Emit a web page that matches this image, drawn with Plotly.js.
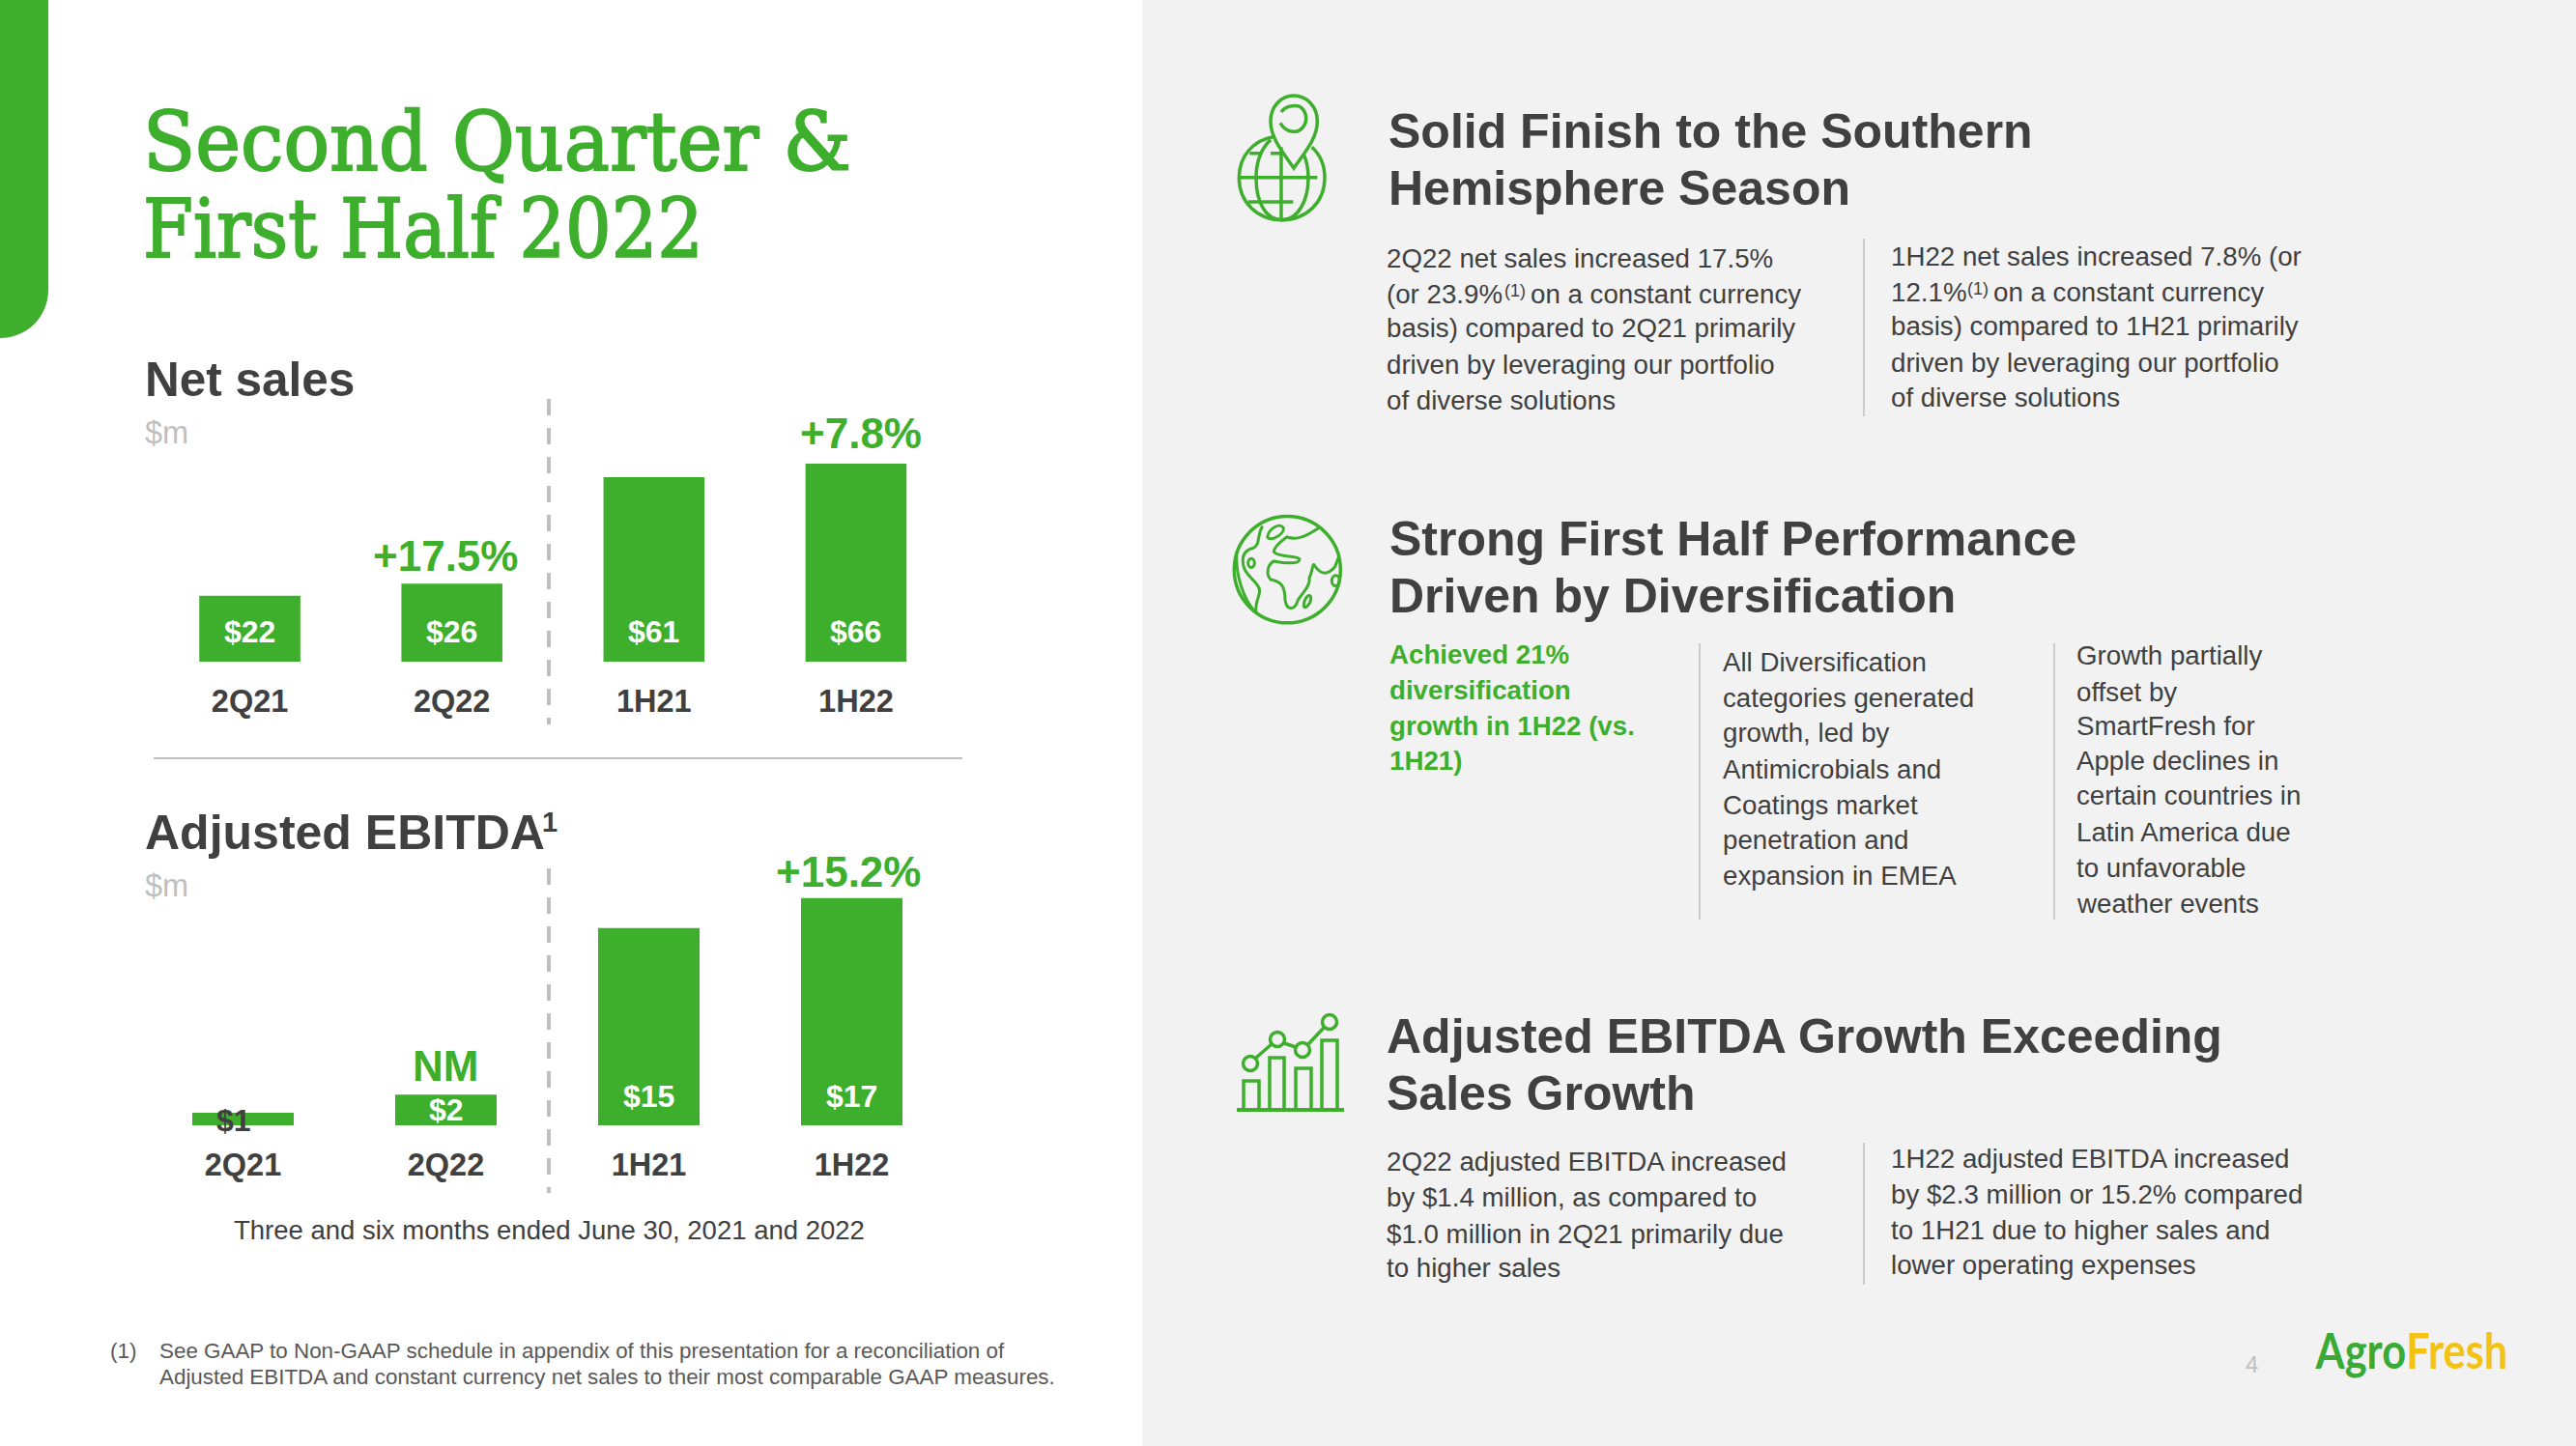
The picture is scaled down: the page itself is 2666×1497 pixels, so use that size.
<!DOCTYPE html>
<html><head><meta charset="utf-8">
<script src="https://cdn.plot.ly/plotly-3.0.1.min.js"></script>
<style>html,body{margin:0;padding:0;background:#fff;overflow:hidden}#c{width:2666px;height:1497px}</style>
</head><body><div id="c"></div>
<script>
const netCats=['2Q21','2Q22','1H21','1H22'];
const netVals=[22,26,61.5,66];
const netLabels=['$22','$26','$61','$66'];
const ebitdaCats=['2Q21','2Q22','1H21','1H22'];
const ebitdaVals=[0.95,2.3,14.8,17.05];
const ebitdaLabels=['$1','$2','$15','$17'];

const W=2666,H=1497;
const GREEN='#3eaf2d',DARK='#404040',GREY='#bfbfbf',FONT='Liberation Sans';
const px=x=>x/W, py=y=>1-y/H;
const ann=[],shapes=[];
function T(x,y,s,size,color,opt={}){
  ann.push({xref:'paper',yref:'paper',x:px(x),y:py(y),text:opt.bold?'<b>'+s+'</b>':s,showarrow:false,
    xanchor:opt.anchor||'left',yanchor:'middle',borderpad:0,borderwidth:0,
    font:{family:opt.family||FONT,size:size,color:color}});
}
function rect(x0,y0,x1,y1,c){shapes.push({type:'rect',xref:'paper',yref:'paper',x0:px(x0),x1:px(x1),y0:py(y0),y1:py(y1),fillcolor:c,line:{width:0},layer:'below'});}
function ln(x0,y0,x1,y1,c,w,dash){shapes.push({type:'line',xref:'paper',yref:'paper',x0:px(x0),x1:px(x1),y0:py(y0),y1:py(y1),line:{color:c,width:w,dash:dash||'solid'},layer:'above'});}
function conv(p,f){return p.replace(/(-?[\d.]+)[ ,](-?[\d.]+)/g,(m,a,b)=>{const q=f(+a,+b);return px(q[0]).toFixed(5)+','+py(q[1]).toFixed(5);});}
function icon(p,f,w){shapes.push({type:'path',xref:'paper',yref:'paper',path:conv(p,f),line:{color:GREEN,width:w||3.5},fillcolor:'rgba(0,0,0,0)',layer:'above'});}
function ell(cx,cy,rx,ry){const k=0.5523;return `M${cx-rx},${cy} C${cx-rx},${cy-k*ry} ${cx-k*rx},${cy-ry} ${cx},${cy-ry} C${cx+k*rx},${cy-ry} ${cx+rx},${cy-k*ry} ${cx+rx},${cy} C${cx+rx},${cy+k*ry} ${cx+k*rx},${cy+ry} ${cx},${cy+ry} C${cx-k*rx},${cy+ry} ${cx-rx},${cy+k*ry} ${cx-rx},${cy} Z`;}
const id=(x,y)=>[x,y];
const zm=(x,y)=>[1250+x/3,70+y/2.613];

// panels
rect(1182,0,W,H,'#f2f2f2');
shapes.push({type:'path',xref:'paper',yref:'paper',path:conv('M0,0 L50,0 L50,300 C50,328 28,350 0,350 Z',id),fillcolor:GREEN,line:{width:0},layer:'below'});

// left text
T(148,147,'Second Quarter &amp;',84,GREEN,{family:'DejaVu Serif'});
T(148,237,'First Half 2022',84,GREEN,{family:'DejaVu Serif'});
T(150,392,'Net sales',49.5,DARK,{bold:true});
T(150,447.5,'$m',32.5,'#bfbfbf');
T(150,862,'Adjusted EBITDA',50,DARK,{bold:true});
T(561,851,'1',29,DARK,{bold:true});
T(150,917,'$m',32.5,'#bfbfbf');
T(461,576,'+17.5%',44,GREEN,{bold:true,anchor:'center'});
T(891,448.5,'+7.8%',44,GREEN,{bold:true,anchor:'center'});
T(461.5,1103,'NM',44,GREEN,{bold:true,anchor:'center'});
T(878,902.5,'+15.2%',44,GREEN,{bold:true,anchor:'center'});
ln(568,413,568,750,GREY,4,'17px,13px');
ln(568,899,568,1235,GREY,4,'17px,13px');
ln(159,785,996,785,GREY,2);
T(568,1273,'Three and six months ended June 30, 2021 and 2022',27.5,DARK,{anchor:'center'});
T(114,1398,'(1)',22.4,'#595959');
T(165,1398,'See GAAP to Non-GAAP schedule in appendix of this presentation for a reconciliation of',22.4,'#595959');
T(165,1425,'Adjusted EBITDA and constant currency net sales to their most comparable GAAP measures.',22.4,'#595959');

// right text
const HS=50,BS=27.7,SUP=18;
T(1437,136,'Solid Finish to the Southern',HS,DARK,{bold:true});
T(1437,195,'Hemisphere Season',HS,DARK,{bold:true});
function block(x,ys,lines,o){lines.forEach((l,i)=>{if(l)T(x,ys[i],l,BS,o&&o.c||DARK,o);});}
block(1435,[267,304,340,377,415],['2Q22 net sales increased 17.5%','(or 23.9%','basis) compared to 2Q21 primarily','driven by leveraging our portfolio','of diverse solutions']);
T(1557,300.5,'(1)',SUP,DARK);
T(1584,304,'on a constant currency',BS,DARK);
block(1957,[265,303,338,376,412],['1H22 net sales increased 7.8% (or','12.1%','basis) compared to 1H21 primarily','driven by leveraging our portfolio','of diverse solutions']);
T(2036,299.5,'(1)',SUP,DARK);
T(2063,303,'on a constant currency',BS,DARK);
ln(1929,247,1929,431,GREY,1.5);
T(1438,558,'Strong First Half Performance',HS,DARK,{bold:true});
T(1438,617,'Driven by Diversification',HS,DARK,{bold:true});
block(1438,[677,714,751,787],['Achieved 21%','diversification','growth in 1H22 (vs.','1H21)'],{c:GREEN,bold:true});
block(1783,[685,722,758,796,833,869,906],['All Diversification','categories generated','growth, led by','Antimicrobials and','Coatings market','penetration and','expansion in EMEA']);
block(2149,[678,716,751,787,824,862,898,935],['Growth partially','offset by','SmartFresh for','Apple declines in','certain countries in','Latin America due','to unfavorable','weather events']);
ln(1759,666,1759,952,GREY,1.5);
ln(2126,666,2126,952,GREY,1.5);
T(1435,1073,'Adjusted EBITDA Growth Exceeding',HS,DARK,{bold:true});
T(1435,1132,'Sales Growth',HS,DARK,{bold:true});
block(1435,[1202,1239,1277,1312],['2Q22 adjusted EBITDA increased','by $1.4 million, as compared to','$1.0 million in 2Q21 primarily due','to higher sales']);
block(1957,[1199,1236,1273,1309],['1H22 adjusted EBITDA increased','by $2.3 million or 15.2% compared','to 1H21 due to higher sales and','lower operating expenses']);
ln(1929,1183,1929,1330,GREY,1.5);
T(2330,1412,'4',24,'#bfbfbf',{anchor:'center'});
T(2396,1397,'<span style="color:#3aaa35">Agro</span><span style="color:#f2c315">Fresh</span>',52,'#3aaa35',{bold:true,family:'Lato'});

// icon 1: globe with pin
icon('M210,186 C140,195 97,240 97,298 C97,365 155,412 230,412 C305,412 363,365 363,298 C363,265 348,235 323,215',zm);
icon('M195,195 C165,220 150,255 150,298 C150,365 180,412 230,412 C280,412 312,360 312,298 C312,275 308,255 298,235',zm);
icon('M228,215 L228,412',zm);
icon('M97,297 L340,297',zm);
icon('M130,232 L165,232 M195,232 L235,232',zm);
icon('M125,363 L265,363',zm);
icon('M267,272 C230,225 195,190 195,145 C195,105 228,76 267,76 C306,76 340,105 340,145 C340,190 305,225 267,272 Z',zm);
icon('M228,120 C240,105 265,100 285,105 C305,115 310,140 300,155 C285,180 245,180 225,150',zm);
// icon 2: world
icon(ell(247,1358,165,144),zm);
icon('M170,1240 C150,1270 165,1290 140,1300 C115,1305 105,1320 110,1345 C115,1375 150,1385 160,1410 C165,1430 145,1440 150,1475',zm,3);
icon('M90,1310 C85,1370 110,1440 150,1475',zm,3);
icon(ell(135,1340,10,12),zm,3);
icon('M185,1270 C190,1245 225,1230 235,1245 C240,1260 195,1285 185,1270 Z',zm,3);
icon('M345,1245 C310,1265 280,1280 245,1270 C230,1280 205,1295 205,1310 C215,1325 280,1320 285,1330 C285,1345 235,1340 205,1335 C185,1345 180,1370 195,1385 C225,1390 240,1400 240,1440 C245,1470 270,1470 280,1440 C295,1420 320,1400 315,1380 C325,1365 325,1340 330,1345 C345,1365 365,1380 395,1350 L408,1320',zm,3);
icon('M298,1455 C300,1430 320,1420 320,1435 C320,1450 300,1470 298,1455 Z',zm,3);
icon(ell(397,1388,12,14),zm,3);
// icon 3: bars and trend
icon('M1280,1149 L1391,1149',id,4);
icon('M1287,1149 L1287,1119 L1303,1119 L1303,1149',id);
icon('M1314,1149 L1314,1095 L1329,1095 L1329,1149',id);
icon('M1341,1149 L1341,1106 L1357,1106 L1357,1149',id);
icon('M1368,1149 L1368,1077 L1384,1077 L1384,1149',id);
icon('M1300,1095 L1316,1081 M1329,1080 L1341,1084 M1354,1081 L1370,1064',id);
icon(ell(1294,1101,7.5,7.5),id);
icon(ell(1322,1076,7.5,7.5),id);
icon(ell(1348,1087,7.5,7.5),id);
icon(ell(1376,1058,7.5,7.5),id);

// value labels tied to the bars
netLabels.forEach((t,i)=>ann.push({xref:'x',yref:'y',x:netCats[i],y:0,yshift:31,text:'<b>'+t+'</b>',showarrow:false,
  font:{family:FONT,size:32,color:'#fff'}}));
const shift2=[5,16,30,30],xs2=[-10,0,0,0],col2=[DARK,'#fff','#fff','#fff'];
ebitdaLabels.forEach((t,i)=>ann.push({xref:'x2',yref:'y2',x:ebitdaCats[i],y:0,yshift:shift2[i],xshift:xs2[i],text:'<b>'+t+'</b>',showarrow:false,
  font:{family:FONT,size:32,color:col2[i]}}));

const bar=(x,y,xa,ya)=>({type:'bar',x:x,y:y,xaxis:xa,yaxis:ya,marker:{color:GREEN,line:{width:0}},hoverinfo:'skip',showlegend:false});
const xax=(x0,x1,anc)=>({type:'category',domain:[px(x0),px(x1)],anchor:anc,range:[-0.5,3.5],showgrid:false,zeroline:false,showline:false,
  ticks:'outside',ticklen:12,tickcolor:'rgba(0,0,0,0)',tickfont:{family:FONT,size:32.5,color:DARK,weight:'bold'}});
const yax=(y0,y1,max)=>({domain:[py(y1),py(y0)],range:[0,max],visible:false,showgrid:false,zeroline:false,fixedrange:true});

// Horizontal fit of texts whose original typeface is not installed: [start, width, stroke].
const fits=[['Second Quarter',733,2],['First Half 2022',580,2],['AgroFresh',199,0]];
Plotly.newPlot('c',[bar(netCats,netVals,'x','y'),bar(ebitdaCats,ebitdaVals,'x2','y2')],{
  width:W,height:H,margin:{l:0,r:0,t:0,b:0},autosize:false,showlegend:false,
  paper_bgcolor:'#ffffff',plot_bgcolor:'rgba(0,0,0,0)',bargap:0.5,
  xaxis:xax(154,990.5,'y'),yaxis:yax(460,685,225/3.106),
  xaxis2:xax(146.5,986.5,'y2'),yaxis2:yax(905,1165,260/13.8),
  shapes:shapes,annotations:ann
},{displayModeBar:false,staticPlot:true}).then(gd=>{
  gd.querySelectorAll('.annotation-text').forEach(t=>{
    const f=fits.find(a=>t.textContent.startsWith(a[0]));
    if(!f)return;
    const b=t.getBBox(),s=f[1]/b.width;
    t.setAttribute('transform',`translate(${b.x},0) scale(${s},1) translate(${-b.x},0)`);
    if(f[2]){t.style.stroke=GREEN;t.style.strokeWidth=f[2]+'px';}
  });
});
</script></body></html>
